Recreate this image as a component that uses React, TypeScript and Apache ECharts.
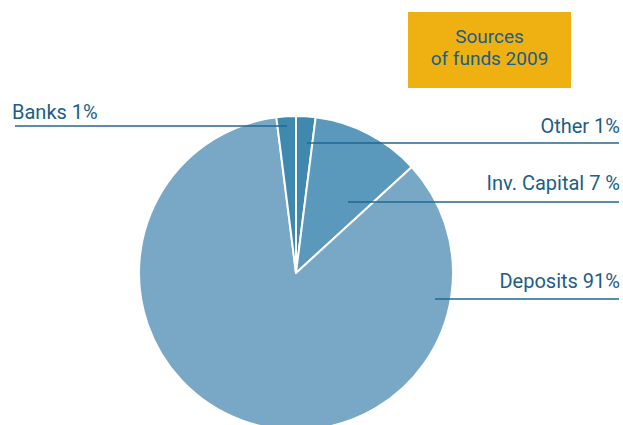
import React, { useEffect, useRef } from "react";
import * as echarts from "echarts";

const categories = ["Other", "Inv. Capital", "Deposits", "Banks"];
const sliceValues = [2.0, 11.2, 84.8, 2.0];
const labelTexts = ["Other 1%", "Inv. Capital 7 %", "Deposits 91%", "Banks 1%"];
const sliceColors = ["#3f89ae", "#5a99bb", "#79a8c7", "#3f89ae"];
const titleLines = ["Sources", "of funds 2009"];

const TEXT_COLOR = "#1b5e86";
const LINE_COLOR = "#1f6993";
const FONT = "Roboto, 'Liberation Sans', sans-serif";

export default function App() {
  const ref = useRef<HTMLDivElement>(null);
  useEffect(() => {
    if (!ref.current) return;
    const chart = echarts.init(ref.current, null, { renderer: "svg" });

    // label annotation geometry: [textX, baselineY, align, lineX1, lineX2, lineY]
    const annot: Array<[number, number, string, number, number, number]> = [
      [620, 132, "right", 307, 619, 143],
      [620, 189, "right", 348, 619, 202],
      [620, 287, "right", 435, 619, 299],
      [12, 118, "left", 15, 287, 126],
    ];

    const graphics: any[] = [
      {
        type: "rect",
        shape: { x: 408, y: 12, width: 163, height: 76 },
        style: { fill: "#efb012" },
        z: 100,
      },
      {
        type: "text",
        x: 489.5,
        y: 46,
        style: {
          text: titleLines[0],
          fill: TEXT_COLOR,
          font: `19px ${FONT}`,
          textAlign: "center",
          textVerticalAlign: "bottom",
        },
        z: 101,
      },
      {
        type: "text",
        x: 489.5,
        y: 68,
        style: {
          text: titleLines[1],
          fill: TEXT_COLOR,
          font: `19px ${FONT}`,
          textAlign: "center",
          textVerticalAlign: "bottom",
        },
        z: 101,
      },
    ];

    labelTexts.forEach((t, i) => {
      const [tx, ty, al, x1, x2, ly] = annot[i];
      graphics.push({
        type: "line",
        shape: { x1, y1: ly, x2, y2: ly },
        style: { stroke: LINE_COLOR, lineWidth: 1.3 },
        z: 100,
      });
      graphics.push({
        type: "text",
        x: tx,
        y: ty + 4,
        style: {
          text: t,
          fill: TEXT_COLOR,
          font: `20px ${FONT}`,
          textAlign: al,
          textVerticalAlign: "bottom",
        },
        z: 100,
      });
    });

    chart.setOption({
      animation: false,
      backgroundColor: "#ffffff",
      graphic: graphics,
      series: [
        {
          type: "pie",
          center: [296, 273],
          radius: 157,
          startAngle: 90,
          clockwise: true,
          label: { show: false },
          labelLine: { show: false },
          emphasis: { disabled: true },
          itemStyle: { borderColor: "#ffffff", borderWidth: 2 },
          data: categories.map((c, i) => ({
            name: c,
            value: sliceValues[i],
            itemStyle: { color: sliceColors[i] },
          })),
        },
      ],
    });
    return () => chart.dispose();
  }, []);
  return (
    <div
      ref={ref}
      style={{ position: "absolute", left: 0, top: 0, width: 623, height: 425 }}
    />
  );
}
